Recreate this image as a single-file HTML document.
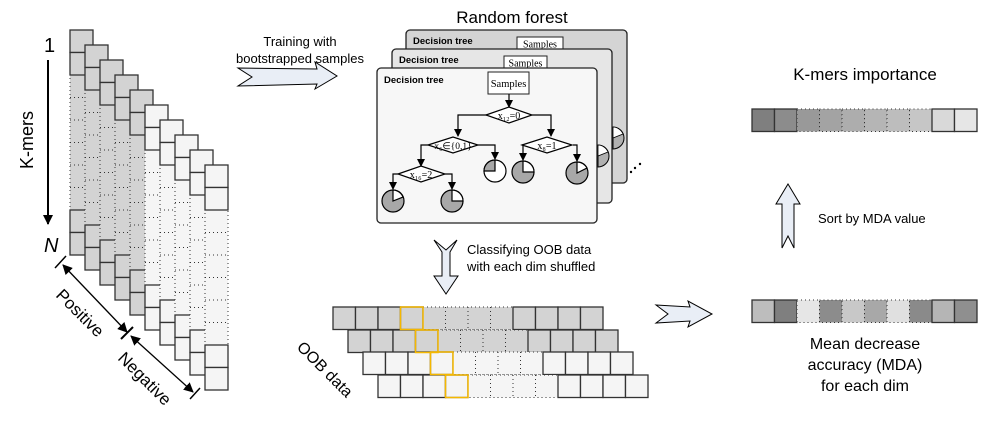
<!DOCTYPE html>
<html><head><meta charset="utf-8"><style>
html,body{margin:0;padding:0;background:#fff;}
svg{display:block;font-family:"Liberation Sans",sans-serif;}
</style></head><body>
<svg width="984" height="424" viewBox="0 0 984 424" xmlns="http://www.w3.org/2000/svg">
<defs>
<g id="colG">
 <rect x="0" y="0" width="23" height="225" fill="#d3d3d3"/>
 <rect x="0" y="45" width="23" height="135" fill="none" stroke="#333" stroke-width="1" stroke-dasharray="1 3"/>
 <path d="M0 67.5H23M0 90H23M0 112.5H23M0 135H23M0 157.5H23" stroke="#333" stroke-width="1" stroke-dasharray="1 3"/>
 <rect x="0" y="0" width="23" height="22.5" fill="#d3d3d3" stroke="#333" stroke-width="1.3"/>
 <rect x="0" y="22.5" width="23" height="22.5" fill="#d3d3d3" stroke="#333" stroke-width="1.3"/>
 <rect x="0" y="180" width="23" height="22.5" fill="#d3d3d3" stroke="#333" stroke-width="1.3"/>
 <rect x="0" y="202.5" width="23" height="22.5" fill="#d3d3d3" stroke="#333" stroke-width="1.3"/>
</g>
<g id="colL">
 <rect x="0" y="0" width="23" height="225" fill="#f5f5f5"/>
 <rect x="0" y="45" width="23" height="135" fill="none" stroke="#333" stroke-width="1" stroke-dasharray="1 3"/>
 <path d="M0 67.5H23M0 90H23M0 112.5H23M0 135H23M0 157.5H23" stroke="#333" stroke-width="1" stroke-dasharray="1 3"/>
 <rect x="0" y="0" width="23" height="22.5" fill="#f5f5f5" stroke="#333" stroke-width="1.3"/>
 <rect x="0" y="22.5" width="23" height="22.5" fill="#f5f5f5" stroke="#333" stroke-width="1.3"/>
 <rect x="0" y="180" width="23" height="22.5" fill="#f5f5f5" stroke="#333" stroke-width="1.3"/>
 <rect x="0" y="202.5" width="23" height="22.5" fill="#f5f5f5" stroke="#333" stroke-width="1.3"/>
</g>
<g id="rowS">
 <rect x="0" y="0" width="22.5" height="22.5" stroke="#333" stroke-width="1.3"/>
 <rect x="22.5" y="0" width="22.5" height="22.5" stroke="#333" stroke-width="1.3"/>
 <rect x="45" y="0" width="22.5" height="22.5" stroke="#333" stroke-width="1.3"/>
 <rect x="67.5" y="0" width="22.5" height="22.5" stroke="#333" stroke-width="1.3"/>
 <rect x="90" y="0" width="90" height="22.5" stroke="#333" stroke-width="1" stroke-dasharray="1 3"/>
 <path d="M112.5 0V22.5M135 0V22.5M157.5 0V22.5" stroke="#333" stroke-width="1" stroke-dasharray="1 3"/>
 <rect x="180" y="0" width="22.5" height="22.5" stroke="#333" stroke-width="1.3"/>
 <rect x="202.5" y="0" width="22.5" height="22.5" stroke="#333" stroke-width="1.3"/>
 <rect x="225" y="0" width="22.5" height="22.5" stroke="#333" stroke-width="1.3"/>
 <rect x="247.5" y="0" width="22.5" height="22.5" stroke="#333" stroke-width="1.3"/>
</g>
<marker id="ah" markerWidth="8" markerHeight="8" refX="7" refY="4" orient="auto" markerUnits="userSpaceOnUse">
 <path d="M0 0L8 4L0 8Z" fill="#000"/>
</marker>
<marker id="ah2" markerWidth="10" markerHeight="10" refX="9" refY="5" orient="auto-start-reverse" markerUnits="userSpaceOnUse">
 <path d="M0 0L10 5L0 10Z" fill="#000"/>
</marker>
</defs>

<use href="#colG" x="70" y="30"/>
<use href="#colG" x="85" y="45"/>
<use href="#colG" x="100" y="60"/>
<use href="#colG" x="115" y="75"/>
<use href="#colG" x="130" y="90"/>
<use href="#colL" x="145" y="105"/>
<use href="#colL" x="160" y="120"/>
<use href="#colL" x="175" y="135"/>
<use href="#colL" x="190" y="150"/>
<use href="#colL" x="205" y="165"/>

<text x="44" y="52" font-size="20">1</text>
<line x1="48" y1="60" x2="48" y2="224" stroke="#000" stroke-width="2" marker-end="url(#ah2)"/>
<text x="44" y="252" font-size="20" font-style="italic">N</text>
<text transform="translate(33,140) rotate(-90)" font-size="18" text-anchor="middle">K-mers</text>

<line x1="63" y1="265" x2="127" y2="332" stroke="#000" stroke-width="1.3" marker-start="url(#ah2)" marker-end="url(#ah2)"/>
<line x1="131" y1="336" x2="193" y2="392" stroke="#000" stroke-width="1.3" marker-start="url(#ah2)" marker-end="url(#ah2)"/>
<line x1="55" y1="268" x2="66" y2="256" stroke="#000" stroke-width="1.5"/>
<line x1="121" y1="339" x2="133" y2="327" stroke="#000" stroke-width="2"/>
<line x1="190" y1="399" x2="200" y2="388" stroke="#000" stroke-width="1.5"/>
<text transform="translate(55,296) rotate(45)" font-size="17">Positive</text>
<text transform="translate(117,359) rotate(45)" font-size="17">Negative</text>

<text x="300" y="46" font-size="13" text-anchor="middle">Training with</text>
<text x="300" y="63" font-size="13" text-anchor="middle">bootstrapped samples</text>
<polygon points="238,68 317,69 315,62 337,76 315,89 317,84 238,86 252,77" fill="#e9eef6" stroke="#000" stroke-width="1"/>

<text x="512" y="23" font-size="17" text-anchor="middle">Random forest</text>
<rect x="406" y="30" width="221" height="153" rx="4" fill="#d4d4d4" stroke="#222" stroke-width="1.3"/>
<text x="413" y="44" font-size="9.5" font-weight="bold">Decision tree</text>
<rect x="517" y="37" width="46" height="13" fill="#fff" stroke="#222"/>
<text x="540" y="47.5" font-size="10" text-anchor="middle" font-family="Liberation Serif,serif">Samples</text>
<path d="M613 127 A11 11 0 0 1 613 149 Z" fill="#b0b0b0" stroke="#000"/>
<path d="M613 127 A11 11 0 0 1 623 134 L613 138 Z" fill="#fff" stroke="#000" stroke-width="0.8"/>

<rect x="392" y="49" width="220" height="154" rx="4" fill="#e6e6e6" stroke="#222" stroke-width="1.3"/>
<text x="399" y="63" font-size="9.5" font-weight="bold">Decision tree</text>
<rect x="504" y="56" width="43" height="13" fill="#fff" stroke="#222"/>
<text x="525.5" y="66.5" font-size="10" text-anchor="middle" font-family="Liberation Serif,serif">Samples</text>
<path d="M598 145 A11 11 0 0 1 598 167 Z" fill="#b0b0b0" stroke="#000"/>
<path d="M598 145 A11 11 0 0 1 608 152 L598 156 Z" fill="#fff" stroke="#000" stroke-width="0.8"/>

<rect x="377" y="68" width="220" height="155" rx="4" fill="#f7f7f7" stroke="#222" stroke-width="1.3"/>
<text x="384" y="83" font-size="9.5" font-weight="bold">Decision tree</text>
<rect x="488" y="72" width="41" height="22" fill="#fff" stroke="#222"/>
<text x="508.5" y="87" font-size="10.5" text-anchor="middle" font-family="Liberation Serif,serif">Samples</text>

<g stroke="#000" stroke-width="1.2" fill="none">
 <line x1="509" y1="94" x2="509" y2="107" marker-end="url(#ah)"/>
 <polyline points="488,115 458,115 458,136" marker-end="url(#ah)"/>
 <polyline points="532,115 551,115 551,136" marker-end="url(#ah)"/>
 <polyline points="428,145 421,145 421,166" marker-end="url(#ah)"/>
 <polyline points="478,145 495,145 495,159" marker-end="url(#ah)"/>
 <polyline points="522,145 523,145 523,160" marker-end="url(#ah)"/>
 <polyline points="573,145 577,145 577,161" marker-end="url(#ah)"/>
 <polyline points="398,174 393,174 393,189" marker-end="url(#ah)"/>
 <polyline points="445,174 452,174 452,189" marker-end="url(#ah)"/>
</g>
<polygon points="486,115 509,107 532,115 509,123" fill="#fff" stroke="#000" stroke-width="1.2"/>
<text x="509" y="119" font-size="10" text-anchor="middle" font-family="Liberation Serif,serif">x₁₂=0</text>
<polygon points="428,145 453,137 478,145 453,153" fill="#fff" stroke="#000" stroke-width="1.2"/>
<text x="453" y="149" font-size="9.5" text-anchor="middle" font-family="Liberation Serif,serif">x₆∈{0,1}</text>
<polygon points="522,145 547,137 572,145 547,153" fill="#fff" stroke="#000" stroke-width="1.2"/>
<text x="547" y="149" font-size="10" text-anchor="middle" font-family="Liberation Serif,serif">x₈=1</text>
<polygon points="398,174 421,166 445,174 421,182" fill="#fff" stroke="#000" stroke-width="1.2"/>
<text x="421" y="178" font-size="10" text-anchor="middle" font-family="Liberation Serif,serif">x₁₆=2</text>

<g stroke="#000" stroke-width="1.2">
 <circle cx="393" cy="201" r="11" fill="#a8a8a8"/><path d="M393 201 L393 190 A11 11 0 0 1 403 197 Z" fill="#fff"/>
 <circle cx="452" cy="201" r="11" fill="#a8a8a8"/><path d="M452 201 L452 190 A11 11 0 0 1 463 201 Z" fill="#fff"/>
 <circle cx="495" cy="171" r="11" fill="#fff"/><path d="M495 171 L484 171 A11 11 0 0 1 495 160 Z" fill="#a8a8a8"/>
 <circle cx="523" cy="172" r="11" fill="#a8a8a8"/><path d="M523 172 L523 161 A11 11 0 0 1 534 172 Z" fill="#fff"/>
 <circle cx="577" cy="173" r="11" fill="#a8a8a8"/><path d="M577 173 L577 162 A11 11 0 0 1 587 168 Z" fill="#fff"/>
</g>
<circle cx="631" cy="172" r="1.2" fill="#000"/>
<circle cx="635" cy="168" r="1.2" fill="#000"/>
<circle cx="640" cy="164" r="1.2" fill="#000"/>

<polygon points="434,240 442,252 442,276 434,276 446,294 458,276 450,276 450,252 457,240 446,250" fill="#e9eef6" stroke="#000" stroke-width="1"/>
<text x="467" y="254" font-size="13">Classifying OOB data</text>
<text x="467" y="271" font-size="13">with each dim shuffled</text>

<use href="#rowS" x="333" y="307" fill="#d3d3d3"/>
<use href="#rowS" x="348" y="330" fill="#d3d3d3"/>
<use href="#rowS" x="363" y="352" fill="#f5f5f5"/>
<use href="#rowS" x="378" y="375" fill="#f5f5f5"/>
<g fill="none" stroke="#f5b800" stroke-width="1.5">
 <rect x="400.5" y="307" width="22.5" height="22.5"/>
 <rect x="415.5" y="330" width="22.5" height="22.5"/>
 <rect x="430.5" y="352" width="22.5" height="22.5"/>
 <rect x="445.5" y="375" width="22.5" height="22.5"/>
</g>
<text transform="translate(296,348) rotate(45)" font-size="16">OOB data</text>

<polygon points="656,305 690,307 688,301 712,314 688,327 690,321 656,323 668,314" fill="#e9eef6" stroke="#000" stroke-width="1"/>

<text x="865" y="80" font-size="17" text-anchor="middle">K-mers importance</text>
<g stroke="#333" stroke-width="1.3">
 <rect x="752" y="109" width="22.5" height="22.5" fill="#7f7f7f"/>
 <rect x="774.5" y="109" width="22.5" height="22.5" fill="#8c8c8c"/>
</g>
<g stroke="#333" stroke-width="1" stroke-dasharray="1 3">
 <rect x="797" y="109" width="22.5" height="22.5" fill="#999"/>
 <rect x="819.5" y="109" width="22.5" height="22.5" fill="#a3a3a3"/>
 <rect x="842" y="109" width="22.5" height="22.5" fill="#adadad"/>
 <rect x="864.5" y="109" width="22.5" height="22.5" fill="#b5b5b5"/>
 <rect x="887" y="109" width="22.5" height="22.5" fill="#bdbdbd"/>
 <rect x="909.5" y="109" width="22.5" height="22.5" fill="#c6c6c6"/>
</g>
<g stroke="#333" stroke-width="1.3">
 <rect x="932" y="109" width="22.5" height="22.5" fill="#d9d9d9"/>
 <rect x="954.5" y="109" width="22.5" height="22.5" fill="#e6e6e6"/>
</g>

<polygon points="788,184 800,204 794,204 794,248 788,236 782,248 782,204 776,204" fill="#e9eef6" stroke="#000" stroke-width="1"/>
<text x="818" y="223" font-size="13">Sort by MDA value</text>

<g stroke="#333" stroke-width="1.3">
 <rect x="752" y="300" width="22.5" height="22.5" fill="#bdbdbd"/>
 <rect x="774.5" y="300" width="22.5" height="22.5" fill="#7f7f7f"/>
</g>
<g stroke="#333" stroke-width="1" stroke-dasharray="1 3">
 <rect x="797" y="300" width="22.5" height="22.5" fill="#e6e6e6"/>
 <rect x="819.5" y="300" width="22.5" height="22.5" fill="#8c8c8c"/>
 <rect x="842" y="300" width="22.5" height="22.5" fill="#c8c8c8"/>
 <rect x="864.5" y="300" width="22.5" height="22.5" fill="#a8a8a8"/>
 <rect x="887" y="300" width="22.5" height="22.5" fill="#e0e0e0"/>
 <rect x="909.5" y="300" width="22.5" height="22.5" fill="#8a8a8a"/>
</g>
<g stroke="#333" stroke-width="1.3">
 <rect x="932" y="300" width="22.5" height="22.5" fill="#b5b5b5"/>
 <rect x="954.5" y="300" width="22.5" height="22.5" fill="#8f8f8f"/>
</g>
<text x="865" y="349" font-size="16" text-anchor="middle">Mean decrease</text>
<text x="865" y="370" font-size="16" text-anchor="middle">accuracy (MDA)</text>
<text x="865" y="391" font-size="16" text-anchor="middle">for each dim</text>
</svg>
</body></html>
